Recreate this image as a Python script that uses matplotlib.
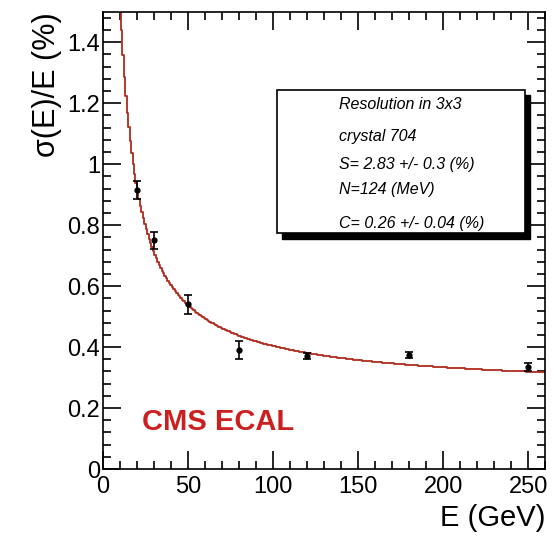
import numpy as np
import matplotlib
matplotlib.use("Agg")
import matplotlib.pyplot as plt
from matplotlib.patches import Rectangle

plt.rcParams['font.family'] = ['Liberation Sans', 'DejaVu Sans']

# points mesures
energie = [20, 30, 50, 80, 120, 180, 250]
resol = [0.915, 0.75, 0.54, 0.39, 0.372, 0.373, 0.335]
erreur = [0.03, 0.027, 0.03, 0.03, 0.01, 0.01, 0.012]

# parametres du fit (S en %, N en MeV, C en %)
S = 2.83
N = 124
C = 0.26
lignes = ["Resolution in 3x3", "crystal 704", "S= 2.83 +/- 0.3 (%)",
          "N=124 (MeV)", "C= 0.26 +/- 0.04 (%)"]

fig = plt.figure(figsize=(5.54, 5.36), dpi=100)
ax = fig.add_axes([0.186, 0.125, 0.798, 0.853])

# courbe du fit, en petites marches comme ROOT
e = np.linspace(5, 260, 300)
f = np.sqrt((S / np.sqrt(e))**2 + (N / 10.0 / e)**2 + C**2)
ax.plot(e, f, color='#b02a1e', lw=1.3, drawstyle='steps-mid', zorder=2)

ax.errorbar(energie, resol, yerr=erreur, fmt='o', color='black', ms=3.5,
            elinewidth=1.2, capsize=3, capthick=1.2, zorder=3)

ax.set_xlim(0, 260)
ax.set_ylim(0, 1.5)
ax.set_xticks([0, 50, 100, 150, 200, 250])
ax.set_xticks(np.arange(0, 261, 10), minor=True)
ax.set_yticks([0, 0.2, 0.4, 0.6, 0.8, 1.0, 1.2, 1.4])
ax.set_yticklabels(['0', '0.2', '0.4', '0.6', '0.8', '1', '1.2', '1.4'])
ax.set_yticks(np.arange(0, 1.501, 0.04), minor=True)
ax.tick_params(which='both', direction='in', top=True, right=True,
               labelsize=17, width=1.2)
ax.tick_params(axis='x', pad=5)
ax.tick_params(axis='y', pad=2)
ax.tick_params(which='major', length=13)
ax.tick_params(which='minor', length=6)
for s in ax.spines.values():
    s.set_linewidth(1.2)

ax.set_xlabel('E (GeV)', fontsize=21, loc='right', labelpad=4)
ax.set_ylabel('σ(E)/E (%)', fontsize=22, loc='top', labelpad=4)

ax.text(23, 0.154, 'CMS ECAL', color='#cc1f1f', fontsize=21,
        fontweight='bold', va='center', ha='left')

# boite de resultats avec ombre
ombre = Rectangle((0.405, 0.504), 0.561, 0.313, transform=ax.transAxes,
                  facecolor='black', edgecolor='black', zorder=4)
boite = Rectangle((0.394, 0.516), 0.561, 0.313, transform=ax.transAxes,
                  facecolor='white', edgecolor='black', lw=1.2, zorder=5)
ax.add_patch(ombre)
ax.add_patch(boite)
ys = [0.797, 0.727, 0.666, 0.611, 0.538]
for t, y in zip(lignes, ys):
    ax.text(0.534, y, t, transform=ax.transAxes, fontsize=11.5,
            style='italic', va='center', ha='left', zorder=6)

fig.savefig('out.png', dpi=100)
